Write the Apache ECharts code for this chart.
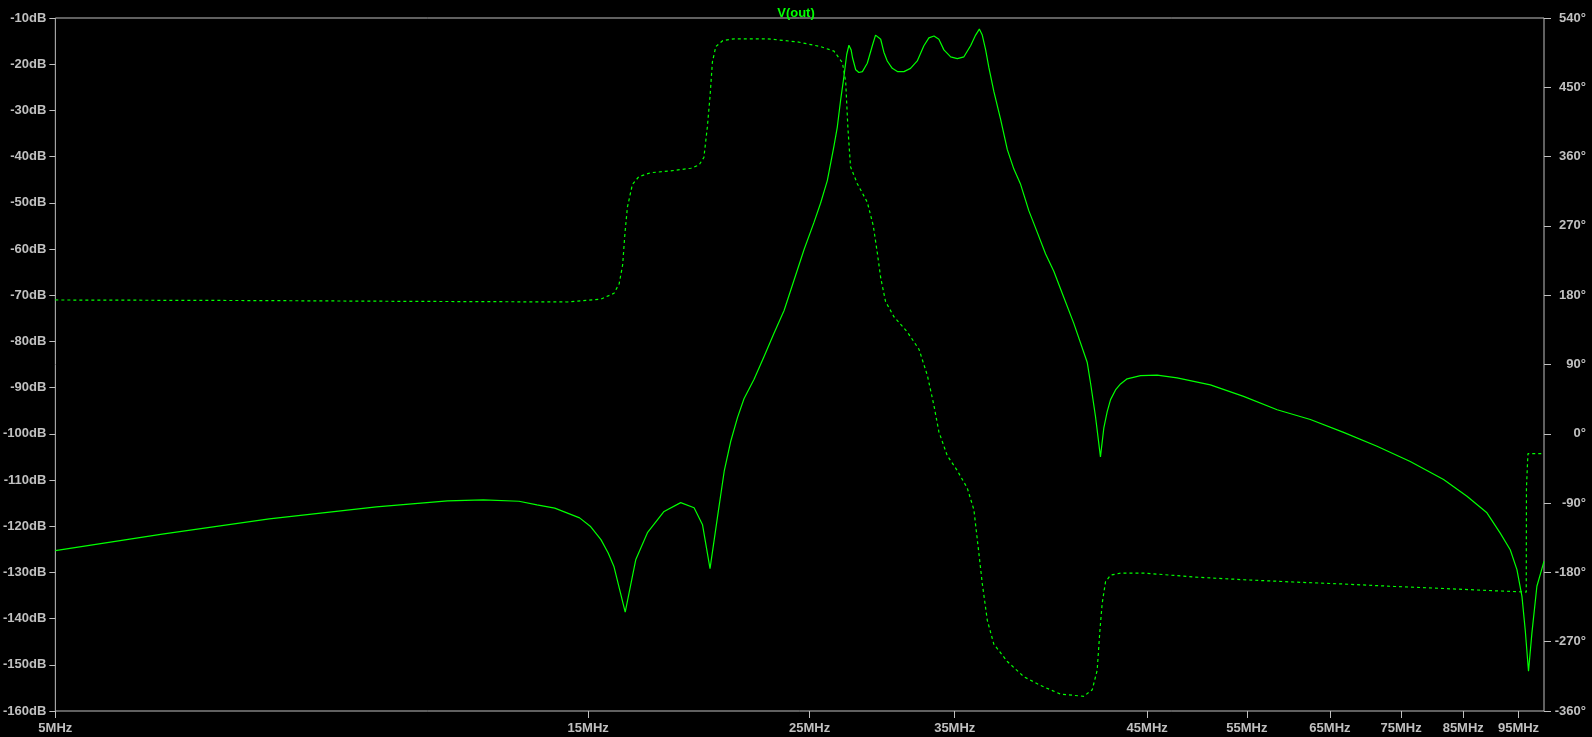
<html>
<head>
<meta charset="utf-8">
<script src="https://cdn.jsdelivr.net/npm/echarts@6/dist/echarts.min.js"></script>
<style>
  body { margin: 0; background: #000; }
  #main { width: 1592px; height: 737px; }
</style>
</head>
<body>
<div id="main"></div>
<script type="text/javascript">
// frequency ticks as placed on the plot (MHz) and their labels
var xTickFreqs = [5, 14.61, 22.81, 30.55, 45, 55, 65, 75, 85, 95];
var xTickLabels = ['5MHz', '15MHz', '25MHz', '35MHz', '45MHz', '55MHz', '65MHz', '75MHz', '85MHz', '95MHz'];

// magnitude of V(out), dB
var magFreq = [5.00, 6.20, 7.69, 9.54, 11.01, 11.83, 12.71, 13.18, 13.66, 14.36,
  14.67, 14.99, 15.21, 15.39, 15.74, 16.08, 16.46, 17.02, 17.60, 18.08,
  18.39, 18.67, 18.95, 19.21, 19.47, 19.73, 19.99, 20.40, 20.81, 21.23,
  21.67, 22.11, 22.56, 23.01, 23.32, 23.64, 23.96, 24.12, 24.28, 24.44,
  24.58, 24.69, 24.80, 24.87, 25.03, 25.19, 25.37, 25.62, 25.88, 26.05,
  26.14, 26.32, 26.49, 26.67, 26.94, 27.22, 27.58, 27.95, 28.33, 28.71,
  29.00, 29.30, 29.59, 29.89, 30.30, 30.71, 31.12, 31.54, 31.86, 32.10,
  32.29, 32.51, 32.72, 33.05, 33.50, 33.96, 34.41, 34.88, 35.46, 36.07,
  36.68, 37.29, 38.05, 38.82, 39.88, 40.15, 40.55, 40.96, 41.24, 41.52,
  41.80, 42.22, 42.65, 43.22, 44.40, 45.91, 47.79, 51.10, 54.63, 58.45,
  62.49, 66.81, 71.46, 76.40, 81.70, 85.64, 89.15, 91.57, 93.43, 94.70,
  95.66, 96.29, 96.93, 97.60, 98.58, 100.0];
var magDb = [-125.3, -121.7, -118.4, -115.8, -114.5, -114.3, -114.6, -115.4, -116.1, -118.2,
  -120.0, -122.9, -125.8, -128.8, -138.6, -127.2, -121.4, -116.8, -114.9, -116.0,
  -119.7, -129.2, -118.1, -108.1, -101.5, -96.5, -92.4, -88.2, -83.3, -78.3,
  -73.3, -66.7, -60.1, -54.3, -50.1, -45.2, -37.7, -33.6, -27.8, -22.8,
  -17.9, -15.9, -16.9, -18.6, -21.2, -21.8, -21.6, -19.8, -16.0, -13.7,
  -13.3, -14.6, -17.4, -19.3, -20.9, -21.6, -21.6, -20.9, -19.3, -16.0,
  -14.3, -13.9, -14.6, -16.9, -18.4, -18.8, -18.4, -16.0, -13.7, -12.4,
  -13.7, -16.9, -20.7, -25.9, -31.9, -38.5, -42.7, -46.0, -51.7, -56.4,
  -61.1, -64.8, -70.5, -76.1, -84.5, -89.0, -96.2, -105.0, -98.7, -95.2,
  -92.6, -90.5, -89.2, -88.1, -87.4, -87.3, -87.9, -89.4, -91.9, -94.8,
  -96.9, -99.7, -102.7, -106.0, -109.9, -113.5, -117.1, -121.5, -125.1, -129.4,
  -135.2, -142.4, -151.4, -143.1, -133.0, -127.6];

// phase of V(out), degrees
var phaseFreq = [5.00, 7.60, 10.2, 14.0, 14.99, 15.39, 15.55, 15.66, 15.73, 15.81,
  15.97, 16.18, 16.57, 17.25, 17.96, 18.26, 18.44, 18.57, 18.67, 18.76,
  18.89, 19.15, 19.60, 20.95, 22.26, 23.32, 23.96, 24.37, 24.53, 24.64,
  24.77, 25.11, 25.62, 25.93, 26.14, 26.32, 26.58, 27.03, 27.77, 28.43,
  28.91, 29.30, 29.59, 30.09, 30.71, 31.33, 31.75, 32.07, 32.29, 32.62,
  33.05, 33.96, 35.11, 36.31, 37.80, 39.61, 40.29, 40.69, 40.91, 41.10,
  41.38, 41.80, 42.65, 44.69, 49.41, 54.63, 60.41, 66.81, 73.89, 81.70,
  90.34, 96.49, 96.53, 96.82, 100.0];
var phaseDeg = [173.8, 173.0, 172.0, 171.2, 174.9, 182.5, 194.9, 219.6, 259.5, 294.3,
  324.0, 334.0, 339.1, 341.4, 344.9, 349.0, 358.8, 398.6, 438.4, 483.1,
  503.0, 510.5, 513.0, 513.0, 509.0, 502.9, 496.9, 481.9, 457.3, 397.0,
  346.9, 324.8, 300.8, 270.3, 235.2, 202.7, 171.7, 152.0, 132.2, 109.7,
  76.0, 36.5, 2.7, -28.3, -47.9, -70.5, -98.6, -155.1, -194.4, -242.3,
  -273.2, -295.8, -315.5, -326.8, -338.1, -340.9, -332.3, -307.1, -256.4, -220.6,
  -192.1, -183.6, -181.0, -180.8, -186.0, -189.5, -192.5, -195.1, -198.2, -200.9,
  -203.8, -205.5, -70.4, -25.8, -25.8];

var axisColor = '#c0c0c0';
var traceColor = '#00ff00';
var fontFam = 'Liberation Sans, Arial, sans-serif';

function pairs(xs, ys) {
  var out = [];
  for (var i = 0; i < xs.length; i++) {
    out.push([xs[i], ys[i]]);
  }
  return out;
}

function freqLabel(v) {
  var best = 0;
  for (var i = 1; i < xTickFreqs.length; i++) {
    if (Math.abs(xTickFreqs[i] - v) < Math.abs(xTickFreqs[best] - v)) best = i;
  }
  return xTickLabels[best];
}

var myChart = echarts.init(document.getElementById('main'));

var option = {
  backgroundColor: '#000',
  animation: false,
  title: {
    text: 'V(out)',
    left: 'center',
    top: 2,
    textStyle: { color: traceColor, fontSize: 13, fontWeight: 'bold', fontFamily: fontFam }
  },
  grid: {
    left: 54, right: 48, top: 18, bottom: 26,
    show: true,
    borderColor: axisColor,
    borderWidth: 1,
    backgroundColor: 'transparent'
  },
  xAxis: {
    type: 'log',
    logBase: 10,
    min: 5,
    max: 100,
    axisLine: { show: false, onZero: false },
    splitLine: { show: false },
    minorTick: { show: false },
    axisTick: {
      show: true,
      length: 7,
      customValues: xTickFreqs,
      lineStyle: { color: axisColor }
    },
    axisLabel: {
      show: true,
      customValues: xTickFreqs,
      margin: 11,
      color: axisColor,
      fontSize: 13,
      fontWeight: 'bold',
      fontFamily: fontFam,
      formatter: function (v) { return freqLabel(v); }
    }
  },
  yAxis: [{
    type: 'value',
    position: 'left',
    min: -160,
    max: -10,
    interval: 10,
    axisLine: { show: false, onZero: false },
    splitLine: { show: false },
    axisTick: { show: true, length: 6, lineStyle: { color: axisColor } },
    axisLabel: {
      margin: 9,
      color: axisColor,
      fontSize: 13,
      fontWeight: 'bold',
      fontFamily: fontFam,
      formatter: '{value}dB'
    }
  }, {
    type: 'value',
    position: 'right',
    min: -360,
    max: 540,
    interval: 90,
    axisLine: { show: false, onZero: false },
    splitLine: { show: false },
    axisTick: { show: true, length: 7, lineStyle: { color: axisColor } },
    axisLabel: {
      margin: 42,
      align: 'right',
      color: axisColor,
      fontSize: 13,
      fontWeight: 'bold',
      fontFamily: fontFam,
      formatter: '{value}°'
    }
  }],
  series: [{
    name: 'V(out) magnitude',
    type: 'line',
    yAxisIndex: 0,
    showSymbol: false,
    lineStyle: { color: traceColor, width: 1.2 },
    data: pairs(magFreq, magDb)
  }, {
    name: 'V(out) phase',
    type: 'line',
    yAxisIndex: 1,
    showSymbol: false,
    lineStyle: { color: traceColor, width: 1.2, type: [3, 3] },
    data: pairs(phaseFreq, phaseDeg)
  }]
};

myChart.setOption(option);
</script>
</body>
</html>
